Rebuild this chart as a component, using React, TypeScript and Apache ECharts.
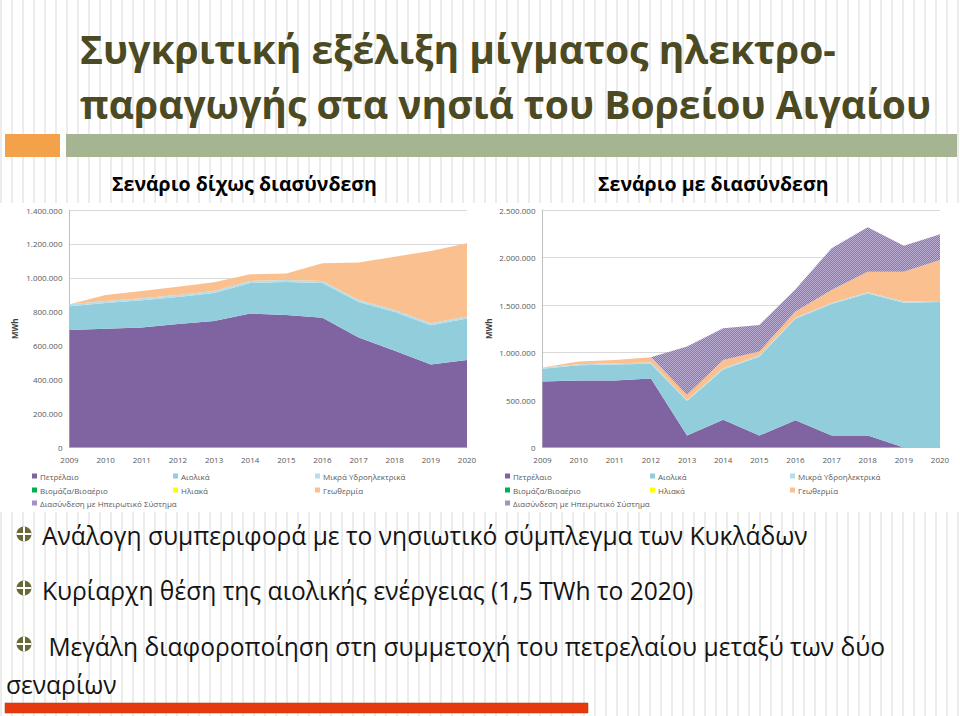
import React, { useEffect, useRef } from 'react';
import * as echarts from 'echarts';

// ---------- data ----------
const years = ['2009', '2010', '2011', '2012', '2013', '2014', '2015', '2016', '2017', '2018', '2019', '2020'];

const seriesNames = [
  'Πετρέλαιο',
  'Αιολικά',
  'Μικρά Υδροηλεκτρικά',
  'Βιομάζα/Βιοαέριο',
  'Ηλιακά',
  'Γεωθερμία',
  'Διασύνδεση με Ηπειρωτικό Σύστημα',
];

// Scenario without interconnection (MWh)
const petrolNo = [693000, 700000, 707000, 728000, 745000, 790000, 781000, 765000, 648000, 570000, 490000, 516000];
const windNo = [139000, 152000, 161000, 159000, 166000, 180000, 195000, 205000, 210000, 229000, 230000, 244000];
const hydroNo = [12000, 12000, 12000, 12000, 12000, 12000, 12000, 12000, 12000, 12000, 12000, 12000];
const biomassNo = [0, 0, 0, 0, 0, 0, 0, 0, 0, 0, 0, 0];
const solarNo = [0, 0, 0, 0, 0, 0, 0, 0, 0, 0, 0, 0];
const geoNo = [0, 35000, 43000, 49000, 51000, 39000, 37000, 104000, 220000, 314000, 426000, 432000];
const interNo = [0, 0, 0, 0, 0, 0, 0, 0, 0, 0, 0, 0];

// Scenario with interconnection (MWh)
const petrolYes = [694000, 705000, 705000, 726000, 126000, 291000, 126000, 288000, 126000, 126000, 0, 0];
const windYes = [136000, 160000, 170000, 156000, 363000, 531000, 830000, 1067000, 1384000, 1496000, 1524000, 1531000];
const hydroYes = [12000, 12000, 12000, 12000, 12000, 12000, 12000, 12000, 12000, 12000, 12000, 12000];
const biomassYes = [0, 0, 0, 0, 0, 0, 0, 0, 0, 0, 0, 0];
const solarYes = [0, 0, 0, 0, 0, 0, 0, 0, 0, 0, 0, 0];
const geoYes = [0, 28000, 35000, 56000, 53000, 88000, 42000, 64000, 136000, 217000, 315000, 431000];
const interYes = [0, 0, 0, 0, 508000, 333000, 280000, 234000, 439000, 467000, 274000, 270000];

const leftMax = 1400000;
const leftInterval = 200000;
const rightMax = 2500000;
const rightInterval = 500000;

const titleLines = ['Συγκριτική εξέλιξη μίγματος ηλεκτρο-', 'παραγωγής στα νησιά του Βορείου Αιγαίου'];
const subtitles = ['Σενάριο δίχως διασύνδεση', 'Σενάριο με διασύνδεση'];
const bullets = [
  'Ανάλογη συμπεριφορά με το νησιωτικό σύμπλεγμα των Κυκλάδων',
  'Κυρίαρχη θέση της αιολικής ενέργειας (1,5 TWh το 2020)',
  ' Μεγάλη διαφοροποίηση στη συμμετοχή του πετρελαίου μεταξύ των δύο',
];
const bulletContinuation = 'σεναρίων';

// ---------- styling ----------
const baseColors = ['#8064a2', '#92cddc', '#b7dde8', '#00b050', '#ffff00', '#fac090', '#a591c2'];
const FONT = '"Open Sans", "Noto Sans", sans-serif';
const axisText = '#595959';

function fmt(v: number) {
  return String(v).replace(/\B(?=(\d{3})+(?!\d))/g, '.');
}

function makePattern() {
  const c = document.createElement('canvas');
  c.width = 2;
  c.height = 2;
  const ctx = c.getContext('2d')!;
  ctx.fillStyle = '#8e74b0';
  ctx.fillRect(0, 0, 2, 2);
  ctx.fillStyle = '#bcaed3';
  ctx.fillRect(0, 0, 1, 1);
  ctx.fillRect(1, 1, 1, 1);
  return { image: c, repeat: 'repeat', imageWidth: 2, imageHeight: 2 } as any;
}

export default function App() {
  const ref = useRef<HTMLDivElement>(null);

  useEffect(() => {
    document.body.style.margin = '0';
    const chart = echarts.init(ref.current!, null, { renderer: 'svg' });
    const pattern = makePattern();
    const areaColors = [...baseColors.slice(0, 6), pattern];

    const leftData = [petrolNo, windNo, hydroNo, biomassNo, solarNo, geoNo, interNo];
    const rightData = [petrolYes, windYes, hydroYes, biomassYes, solarYes, geoYes, interYes];

    const makeSeries = (data: number[][], idx: number) =>
      seriesNames.map((name, i) => ({
        name,
        type: 'line',
        stack: 'stack' + idx,
        xAxisIndex: idx,
        yAxisIndex: idx,
        data: data[i],
        symbol: 'none',
        showSymbol: false,
        silent: true,
        lineStyle: { width: 0, color: baseColors[i] },
        itemStyle: { color: baseColors[i] },
        areaStyle: { color: areaColors[i], opacity: 1 },
        emphasis: { disabled: true },
        z: 2,
      }));

    const grids = [
      { left: 69.5, top: 210, width: 397.5, height: 237.5 },
      { left: 542.5, top: 210, width: 397.5, height: 237.5 },
    ];

    const xAxes = [0, 1].map((i) => ({
      type: 'category',
      gridIndex: i,
      data: years,
      boundaryGap: false,
      axisLine: { lineStyle: { color: '#bfbfbf', width: 1 } },
      axisTick: { show: false },
      axisLabel: { color: axisText, fontSize: 8, fontFamily: FONT, margin: 8 },
      splitLine: { show: false },
    }));

    const yAxes = [0, 1].map((i) => ({
      type: 'value',
      gridIndex: i,
      min: 0,
      max: i === 0 ? leftMax : rightMax,
      interval: i === 0 ? leftInterval : rightInterval,
      name: 'MWh',
      nameLocation: 'middle',
      nameRotate: 90,
      nameGap: i === 0 ? 51 : 50,
      nameTextStyle: { color: '#404040', fontSize: 8, fontWeight: 'bold', fontFamily: FONT },
      axisLine: { show: true, lineStyle: { color: '#bfbfbf', width: 1 } },
      axisTick: { show: false },
      axisLabel: { color: axisText, fontSize: 8, fontFamily: FONT, margin: 7, formatter: (v: number) => fmt(v) },
      splitLine: { show: true, lineStyle: { color: '#d9d9d9', width: 1 } },
    }));

    const legendCols = [
      [32, 173, 315],
      [505, 650, 790],
    ];
    const legendRows = [478, 492, 505];
    const legends: any[] = [];
    [0, 1].forEach((c) => {
      seriesNames.forEach((name, i) => {
        const row = Math.floor(i / 3);
        const col = i % 3;
        legends.push({
          left: legendCols[c][col],
          top: legendRows[row] - 6,
          orient: 'horizontal',
          padding: 0,
          icon: 'rect',
          itemWidth: 5,
          itemHeight: 5,
          selectedMode: false,
          textStyle: { color: axisText, fontSize: 8, fontFamily: FONT, padding: [0, 0, 0, -2] },
          data: [{ name, itemStyle: { color: baseColors[i], opacity: 1, borderWidth: 0 }, lineStyle: { width: 0 } }],
        });
      });
    });

    const titleColor = '#4b4a22';
    const graphics: any[] = [
      { type: 'rect', shape: { x: 0, y: 203, width: 960, height: 309 }, style: { fill: '#ffffff' }, z: -10, silent: true },
      { type: 'rect', shape: { x: 5, y: 134, width: 55, height: 23 }, style: { fill: '#f4a24a' }, silent: true },
      { type: 'rect', shape: { x: 66, y: 134, width: 891, height: 23 }, style: { fill: '#a5b592' }, silent: true },
      {
        type: 'text', x: 80, y: 48, silent: true,
        style: { text: titleLines[0], fontSize: 39, fontWeight: 'bold', fontFamily: FONT, fill: titleColor, verticalAlign: 'middle', align: 'left' },
      },
      {
        type: 'text', x: 80, y: 103, silent: true,
        style: { text: titleLines[1], fontSize: 39, fontWeight: 'bold', fontFamily: FONT, fill: titleColor, verticalAlign: 'middle', align: 'left' },
      },
      {
        type: 'text', x: 112, y: 183, silent: true,
        style: { text: subtitles[0], fontSize: 19.5, fontWeight: 'bold', fontFamily: FONT, fill: '#000', verticalAlign: 'middle', align: 'left' },
      },
      {
        type: 'text', x: 598, y: 183, silent: true,
        style: { text: subtitles[1], fontSize: 19.5, fontWeight: 'bold', fontFamily: FONT, fill: '#000', verticalAlign: 'middle', align: 'left' },
      },
      { type: 'rect', shape: { x: 5, y: 703, width: 583, height: 10 }, style: { fill: '#e8380d', stroke: '#b04a2a', lineWidth: 0.6 }, silent: true },
    ];

    const bulletY = [535.5, 590, 646];
    const bulletIconY = [534, 588, 644];
    bullets.forEach((t, i) => {
      const cy = bulletIconY[i];
      graphics.push({ type: 'circle', shape: { cx: 24, cy, r: 7.5 }, style: { fill: '#686838' }, silent: true });
      graphics.push({ type: 'rect', shape: { x: 23, y: cy - 7.5, width: 2, height: 15 }, style: { fill: '#ffffff' }, silent: true });
      graphics.push({ type: 'rect', shape: { x: 16.5, y: cy - 1, width: 15, height: 2 }, style: { fill: '#ffffff' }, silent: true });
      graphics.push({
        type: 'text', x: 42, y: bulletY[i], silent: true,
        style: { text: t, fontSize: 24.6, fontFamily: FONT, fill: '#141414', verticalAlign: 'middle', align: 'left' },
      });
    });
    graphics.push({
      type: 'text', x: 6, y: 684, silent: true,
      style: { text: bulletContinuation, fontSize: 24.6, fontFamily: FONT, fill: '#141414', verticalAlign: 'middle', align: 'left' },
    });

    chart.setOption({
      animation: false,
      backgroundColor: 'transparent',
      textStyle: { fontFamily: FONT },
      grid: grids,
      xAxis: xAxes,
      yAxis: yAxes,
      legend: legends,
      graphic: { elements: graphics },
      series: [...makeSeries(leftData, 0), ...makeSeries(rightData, 1)],
    });

    return () => chart.dispose();
  }, []);

  return (
    <div
      ref={ref}
      style={{
        position: 'absolute',
        left: 0,
        top: 0,
        width: 960,
        height: 716,
        background: 'repeating-linear-gradient(90deg, #ececec 0px, #ececec 2px, #ffffff 2px, #ffffff 11px)',
      }}
    />
  );
}
